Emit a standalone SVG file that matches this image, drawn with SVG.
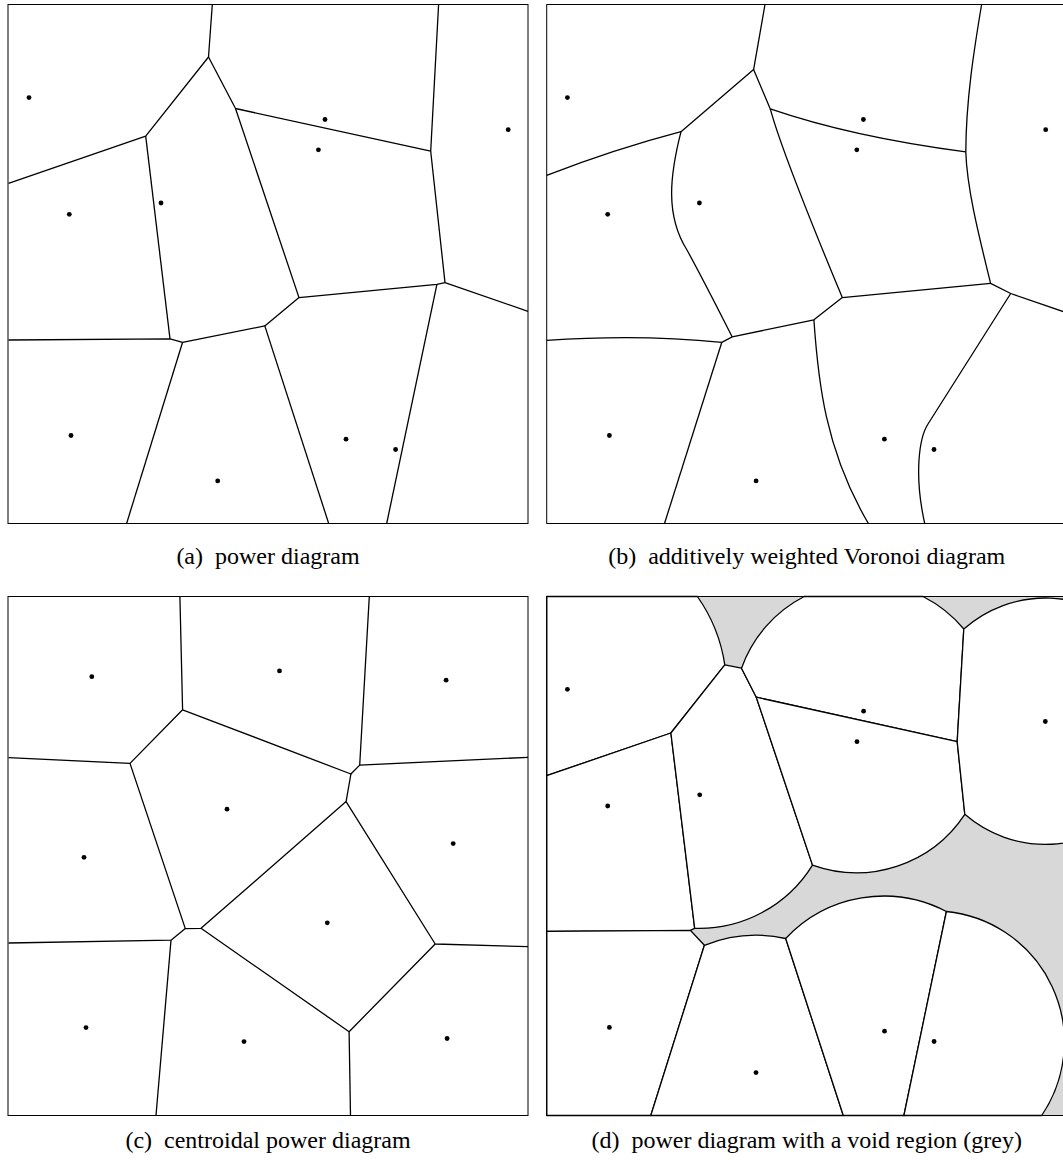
<svg xmlns="http://www.w3.org/2000/svg" width="1063" height="1160" viewBox="0 0 1063 1160">
<style>
.frame{fill:none;stroke:#000;stroke-width:1}
.edge{fill:none;stroke:#000;stroke-width:1.3;stroke-linejoin:round}
.cell{fill:#fff;stroke:#000;stroke-width:1.3;stroke-linejoin:round}
.site{fill:#000}
.cap{font-family:"Liberation Serif","Times New Roman",serif;font-size:24px;fill:#000;text-anchor:middle}
</style>
<rect width="1063" height="1160" fill="#fff"/>

<g id="panel-a">
  <rect class="frame" x="8" y="4.5" width="520" height="519" fill="#fff"/>
  <g id="edges-a">
    <path class="edge" d="M212.3,4.5 L208.5,57 L145.7,136.2 L8.5,183.3"/>
    <path class="edge" d="M208.5,57 L235.5,108.5 L430.7,151.2 L438.6,4.5"/>
    <path class="edge" d="M430.7,151.2 L445,282.6 L528,311.3"/>
    <path class="edge" d="M235.5,108.5 L299,297.6 L436.9,284.3 L445,282.6"/>
    <path class="edge" d="M436.9,284.3 L386.7,523.5"/>
    <path class="edge" d="M299,297.6 L264.8,325.9 L182.6,342.3 L170,338.9 L8.5,340"/>
    <path class="edge" d="M170,338.9 L145.7,136.2"/>
    <path class="edge" d="M182.6,342.3 L126.6,523.5"/>
    <path class="edge" d="M264.8,325.9 L328.7,523.5"/>
  </g>
  <g id="sites-a" class="site">
    <circle cx="29" cy="97.6" r="2.4"/>
    <circle cx="69.3" cy="214.3" r="2.4"/>
    <circle cx="161" cy="203" r="2.4"/>
    <circle cx="325" cy="119.5" r="2.4"/>
    <circle cx="318.4" cy="149.8" r="2.4"/>
    <circle cx="508.2" cy="129.7" r="2.4"/>
    <circle cx="71" cy="435.5" r="2.4"/>
    <circle cx="217.7" cy="480.9" r="2.4"/>
    <circle cx="346" cy="439.2" r="2.4"/>
    <circle cx="395.6" cy="449.5" r="2.4"/>
  </g>
  <text class="cap" x="268" y="564">(a)<tspan dx="12">power diagram</tspan></text>
</g>

<g id="panel-b">
  <rect class="frame" x="546.7" y="4.5" width="520" height="519" fill="#fff"/>
  <g id="edges-b">
    <path class="edge" d="M765,4.5 L753.6,69.6 L681,131.7 Q615,149 546.7,175.4"/>
    <path class="edge" d="M753.6,69.6 L770.3,108.9 Q852,137 965.8,151.9"/>
    <path class="edge" d="M981.6,4.5 C974,50 966,100 965.8,151.9 C967,190 980,240 990.6,283.3 L1010.7,293.5 L1066,312.5"/>
    <path class="edge" d="M990.6,283.3 L842.3,297.6"/>
    <path class="edge" d="M770.3,108.9 C780,145 810,220 842.3,297.6 L813.9,319.8 L732.2,336.9 L721.8,342.3"/>
    <path class="edge" d="M681,131.7 C670,175 665,215 687,250 C705,283 720,313 732.2,336.9"/>
    <path class="edge" d="M721.8,342.3 Q640,334 546.7,340.3"/>
    <path class="edge" d="M721.8,342.3 L664.5,523.5"/>
    <path class="edge" d="M813.9,319.8 C818,380 825,450 868.4,523.5"/>
    <path class="edge" d="M1010.7,293.5 L928,424 C919,438 914,475 924.7,523.5"/>
  </g>
  <g id="sites-b" class="site">
    <circle cx="567.4" cy="97.6" r="2.4"/>
    <circle cx="607.7" cy="214.3" r="2.4"/>
    <circle cx="699.4" cy="203" r="2.4"/>
    <circle cx="863.4" cy="119.5" r="2.4"/>
    <circle cx="856.8" cy="149.8" r="2.4"/>
    <circle cx="1045.7" cy="129.7" r="2.4"/>
    <circle cx="609.4" cy="435.5" r="2.4"/>
    <circle cx="756.1" cy="480.9" r="2.4"/>
    <circle cx="884.4" cy="439.2" r="2.4"/>
    <circle cx="934" cy="449.5" r="2.4"/>
  </g>
  <text class="cap" x="806.7" y="564">(b)<tspan dx="12">additively weighted Voronoi diagram</tspan></text>
</g>

<g id="panel-c">
  <rect class="frame" x="8" y="596.5" width="520" height="519" fill="#fff"/>
  <g id="edges-c">
    <path class="edge" d="M179.9,596.5 L182.6,709.8 L130,763.4 L8.5,757.6"/>
    <path class="edge" d="M182.6,709.8 L350.9,774 L359.7,765.1 L369.3,596.5"/>
    <path class="edge" d="M359.7,765.1 L528,757.3"/>
    <path class="edge" d="M350.9,774 L346.1,801.6 L435.2,944 L528,946.7"/>
    <path class="edge" d="M130,763.4 L185.3,928.6 L201,928.3 L346.1,801.6"/>
    <path class="edge" d="M185.3,928.6 L171,940.2 L8.5,943"/>
    <path class="edge" d="M171,940.2 L156,1115.5"/>
    <path class="edge" d="M201,928.3 L349.1,1031.7 L435.2,944"/>
    <path class="edge" d="M349.1,1031.7 L350.5,1115.5"/>
  </g>
  <g id="sites-c" class="site">
    <circle cx="91.8" cy="676.7" r="2.4"/>
    <circle cx="279.5" cy="670.9" r="2.4"/>
    <circle cx="446.1" cy="680.2" r="2.4"/>
    <circle cx="227" cy="809.2" r="2.4"/>
    <circle cx="84" cy="857.3" r="2.4"/>
    <circle cx="453.2" cy="843.6" r="2.4"/>
    <circle cx="327.3" cy="922.8" r="2.4"/>
    <circle cx="86" cy="1027.6" r="2.4"/>
    <circle cx="244" cy="1041.6" r="2.4"/>
    <circle cx="447.1" cy="1038.5" r="2.4"/>
  </g>
  <text class="cap" x="268" y="1148">(c)<tspan dx="12">centroidal power diagram</tspan></text>
</g>

<g id="panel-d">
  <rect x="546.7" y="596.5" width="520" height="519" fill="#d8d8d8"/>
  <g id="cells-d">
    <path class="cell" d="M546.7,596.5 L697.4,596.5 A160,160 0 0,1 724.8,664.8 L670.9,733 L546.7,775.7 Z"/>
    <path class="cell" d="M546.7,775.7 L670.9,733 L694.7,928.3 L690.3,930.3 L546.7,931.3 Z"/>
    <path class="cell" d="M546.7,931.3 L690.3,930.3 L704.4,945.3 L650.8,1115.5 L546.7,1115.5 Z"/>
    <path class="cell" d="M724.8,664.8 L741.5,668.2 L756.3,697.2 L812.5,865.1 A133.3,133.3 0 0,1 694.7,928.3 L670.9,733 Z"/>
    <path class="cell" d="M741.5,668.2 A129.4,129.4 0 0,1 804.2,596.5 L923,596.5 A129.4,129.4 0 0,1 963.8,629 L957.2,741.6 L756.3,697.2 Z"/>
    <path class="cell" d="M756.3,697.2 L957.2,741.6 L964.8,814.3 A130,130 0 0,1 812.5,865.1 Z"/>
    <path class="cell" d="M963.8,629 A123.2,123.2 0 1,1 964.8,814.3 L957.2,741.6 Z"/>
    <path class="cell" d="M704.4,945.3 A137.3,137.3 0 0,1 785.7,938.5 L843.3,1115.5 L650.8,1115.5 Z"/>
    <path class="cell" d="M785.7,938.5 A134.8,134.8 0 0,1 946.4,911.5 L903.9,1115.5 L843.3,1115.5 Z"/>
    <path class="cell" d="M946.4,911.5 A131,131 0 0,1 1041.7,1115.5 L903.9,1115.5 Z"/>
  </g>
  <rect class="frame" x="546.7" y="596.5" width="520" height="519"/>
  <g id="sites-d" class="site">
    <circle cx="567.4" cy="689.3" r="2.4"/>
    <circle cx="607.7" cy="806" r="2.4"/>
    <circle cx="699.7" cy="794.8" r="2.4"/>
    <circle cx="863.6" cy="711.2" r="2.4"/>
    <circle cx="857" cy="741.7" r="2.4"/>
    <circle cx="1045.3" cy="721.5" r="2.4"/>
    <circle cx="609.4" cy="1027.4" r="2.4"/>
    <circle cx="756" cy="1072.6" r="2.4"/>
    <circle cx="884.5" cy="1031.2" r="2.4"/>
    <circle cx="934.1" cy="1041.5" r="2.4"/>
  </g>
  <text class="cap" x="806.7" y="1148">(d)<tspan dx="12">power diagram with a void region (grey)</tspan></text>
</g>
</svg>
